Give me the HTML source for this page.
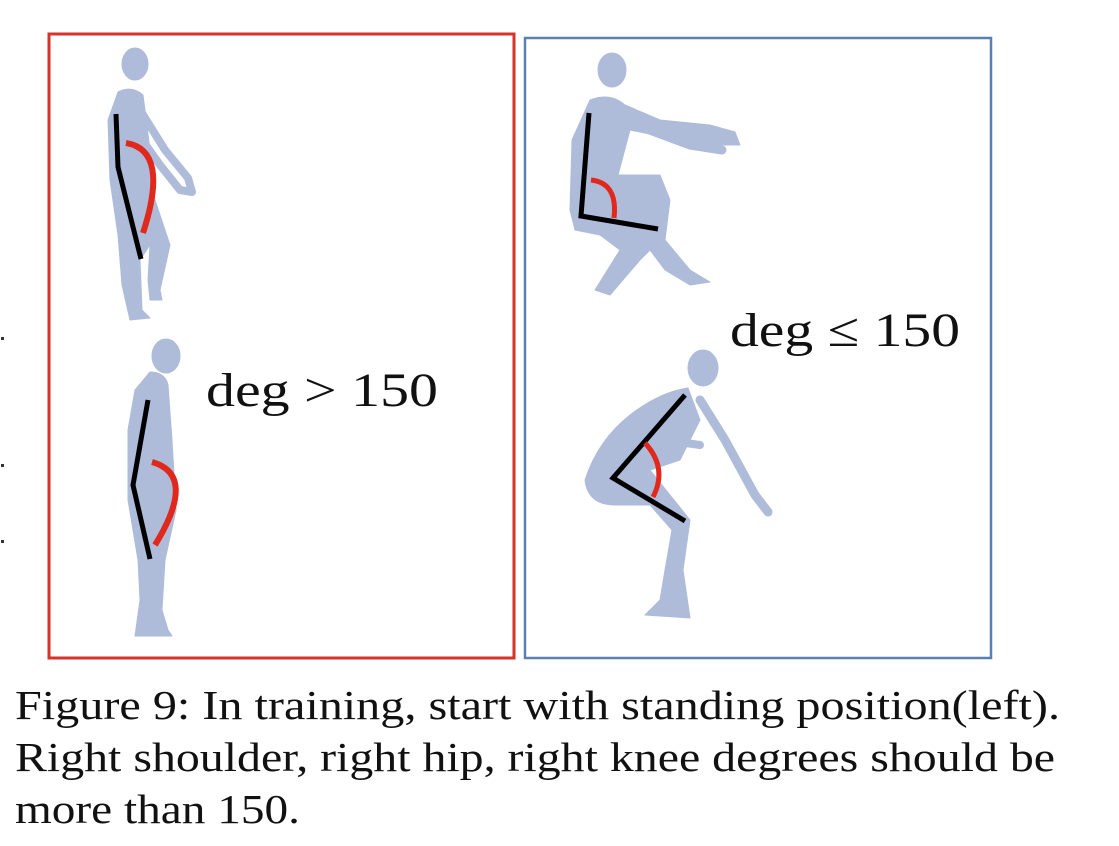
<!DOCTYPE html>
<html><head><meta charset="utf-8"><style>
html,body{margin:0;padding:0;background:#fff;}
svg{display:block;}
</style></head><body>
<svg width="1119" height="846" viewBox="0 0 1119 846" xmlns="http://www.w3.org/2000/svg">
<g fill="#333">
<rect x="1" y="337" width="3" height="3"/><rect x="1" y="464" width="3" height="3"/><rect x="1" y="540" width="3" height="3"/>
</g>
<rect x="49" y="34" width="465" height="624" fill="#fff" stroke="#d8332a" stroke-width="3"/>
<rect x="525" y="38" width="466" height="620" fill="#fff" stroke="#5a7fb0" stroke-width="2.5"/>

<g fill="#aebcda" stroke="#aebcda" stroke-linecap="round" stroke-linejoin="round">
<ellipse cx="135" cy="64" rx="13" ry="16"/>
<path d="M118 92 Q132 85 143 95 L150 150 L155 200 L170 245 L160 290 L162 300 L150 300 L148 280 L150 245 L140 260 L142 310 L150 318 L130 320 L122 285 L118 235 L110 180 L108 120 Z"/>
<path d="M140 110 L165 150 L188 178 L192 192 L180 190 L160 165 L135 130" fill="none" stroke-width="8"/>
</g>
<g fill="#aebcda" stroke="#aebcda" stroke-linecap="round" stroke-linejoin="round">
<ellipse cx="166" cy="356" rx="14" ry="17"/>
<path d="M150 372 Q165 372 168 385 L172 440 L176 510 L165 560 L162 610 L168 630 L172 636 L135 636 L140 600 L138 560 L128 500 L128 430 L135 390 Z"/>
</g>
<g fill="#aebcda" stroke="#aebcda" stroke-linecap="round" stroke-linejoin="round">
<ellipse cx="612" cy="70" rx="14" ry="17"/>
<path d="M590 100 Q610 92 625 105 L660 120 L710 125 L735 132 L740 145 L715 145 L680 140 L630 130 L618 175 L660 175 L670 200 L665 240 L690 270 L710 282 L690 285 L665 270 L650 250 L640 260 L610 295 L595 290 L620 250 L600 235 L575 230 L570 210 L572 140 Z"/>
<path d="M628 122 L690 145 L722 150" fill="none" stroke-width="9"/>
</g>
<g fill="#aebcda" stroke="#aebcda" stroke-linecap="round" stroke-linejoin="round">
<ellipse cx="703" cy="368" rx="15" ry="18"/>
<path d="M688 388 Q660 392 630 415 Q598 440 585 480 Q588 505 615 505 L650 505 L672 530 L665 570 L660 600 L645 615 L690 618 L683 570 L690 520 L670 495 L650 470 L680 460 L700 420 Z"/>
<path d="M700 400 L725 440 L755 495 L768 512" fill="none" stroke-width="9"/>
<path d="M665 440 L700 445" fill="none" stroke-width="8"/>
</g>

<g fill="none" stroke-linecap="butt" stroke-linejoin="miter">
<path d="M116 114 L118 167 L141 259" stroke="#000" stroke-width="5"/>
<path d="M126 143 Q170 150 143 233" stroke="#e0281c" stroke-width="6"/>
<path d="M148 400 L133 485 L150 559" stroke="#000" stroke-width="5"/>
<path d="M152 462 Q198 475 155 545" stroke="#e0281c" stroke-width="6"/>
<path d="M589 113 L581 216 L658 229" stroke="#000" stroke-width="5"/>
<path d="M591 180 Q618 183 614 218" stroke="#e0281c" stroke-width="5"/>
<path d="M685 395 L613 478 L685 521" stroke="#000" stroke-width="5"/>
<path d="M645 443 Q668 468 653 497" stroke="#e0281c" stroke-width="5"/>
</g>

<text x="206" y="406" font-family="Liberation Serif, serif" font-size="48" fill="#111" textLength="232" lengthAdjust="spacingAndGlyphs">deg &gt; 150</text>
<text x="730" y="346" font-family="Liberation Serif, serif" font-size="48" fill="#111" textLength="230" lengthAdjust="spacingAndGlyphs">deg ≤ 150</text>

<g font-family="Liberation Serif, serif" font-size="41" fill="#111">
<text x="15" y="719" textLength="1045" lengthAdjust="spacingAndGlyphs">Figure 9: In training, start with standing position(left).</text>
<text x="15" y="771" textLength="1040" lengthAdjust="spacingAndGlyphs">Right shoulder, right hip, right knee degrees should be</text>
<text x="15" y="823" textLength="285" lengthAdjust="spacingAndGlyphs">more than 150.</text>
</g>
</svg>
</body></html>
